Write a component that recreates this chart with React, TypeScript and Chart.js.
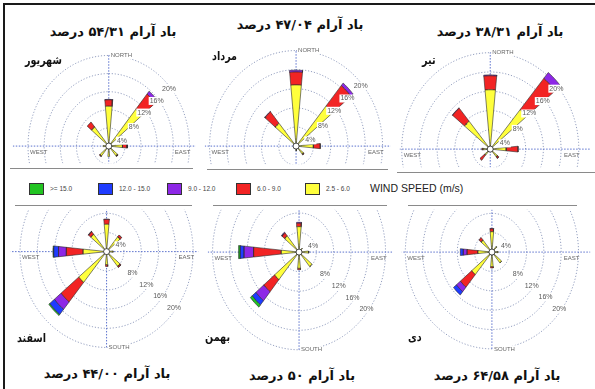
import React, { useEffect, useRef } from 'react';
import { Chart, registerables } from 'chart.js';
Chart.register(...registerables);

// ---------------- data ----------------
const directions = ['N', 'NNE', 'NE', 'ENE', 'E', 'ESE', 'SE', 'SSE', 'S', 'SSW', 'SW', 'WSW', 'W', 'WNW', 'NW', 'NNW'];
const speedClasses = ['2.5 - 6.0', '6.0 - 9.0', '9.0 - 12.0', '12.0 - 15.0', '>= 15.0'];
const speedColors = ['#ffff3c', '#f22424', '#8d27e6', '#1f3cff', '#22c422'];
const ringValues = [4, 8, 12, 16, 20];
const ringLabels = ['4%', '8%', '12%', '16%', '20%'];

const monthNames = ['شهریور', 'مرداد', 'تیر', 'اسفند', 'بهمن', 'دی'];
const calmPercent = ['۵۴/۳۱', '۴۷/۰۴', '۳۸/۳۱', '۴۴/۰۰', '۵۰', '۶۴/۵۸'];

// frequency (%) per direction (N, NNE, ... NNW); one row per speed class
const shahrivarFreq = [
  [8.8, 0, 10.5, 0, 3.4, 0, 2.8, 0, 2.3, 0, 2.8, 0, 1.4, 0, 5.5, 0],
  [1.4, 0, 4.4, 0, 1.1, 0, 0.2, 0, 0, 0, 0.2, 0, 0, 0, 1.4, 0],
  [0.1, 0, 0.8, 0, 0.1, 0, 0, 0, 0, 0, 0, 0, 0, 0, 0, 0],
  [0, 0, 0, 0, 0, 0, 0, 0, 0, 0, 0, 0, 0, 0, 0, 0],
  [0, 0, 0, 0, 0, 0, 0, 0, 0, 0, 0, 0, 0, 0, 0, 0],
];
const mordadFreq = [
  [12.8, 0, 10.9, 0, 4.0, 0, 2.2, 0, 1.0, 0, 0.6, 0, 0.5, 0, 6.2, 0],
  [2.7, 0, 5.5, 0, 1.6, 0, 0.2, 0, 0, 0, 0, 0, 0, 0, 3.1, 0],
  [0.4, 0, 0.7, 0, 0, 0, 0, 0, 0, 0, 0, 0, 0, 0, 0.1, 0],
  [0, 0, 0, 0, 0, 0, 0, 0, 0, 0, 0, 0, 0, 0, 0, 0],
  [0, 0, 0, 0, 0, 0, 0, 0, 0, 0, 0, 0, 0, 0, 0, 0],
];
const tirFreq = [
  [12.3, 0, 10.6, 0, 3.6, 0, 2.1, 0, 0, 0, 1.6, 0, 1.6, 0, 7.5, 0],
  [2.9, 0, 8.4, 0, 2.7, 0, 0.4, 0, 0, 0, 1.4, 0, 0.3, 0, 3.5, 0],
  [0.2, 0, 1.6, 0, 0, 0, 0, 0, 0, 0, 0, 0, 0, 0, 0.1, 0],
  [0, 0, 0, 0, 0, 0, 0, 0, 0, 0, 0, 0, 0, 0, 0, 0],
  [0, 0, 0, 0, 0, 0, 0, 0, 0, 0, 0, 0, 0, 0, 0, 0],
];
const esfandFreq = [
  [5.7, 0, 4.0, 0, 1.5, 0, 4.0, 0, 2.7, 0, 8.3, 0, 5.4, 0, 4.7, 0],
  [1.0, 0, 0.5, 0, 0, 0, 0.3, 0, 0.4, 0, 5.3, 0, 3.9, 0, 0.7, 0],
  [0.1, 0, 0, 0, 0, 0, 0, 0, 0, 0, 2.0, 0, 1.8, 0, 0.1, 0],
  [0, 0, 0, 0, 0, 0, 0, 0, 0, 0, 1.4, 0, 1.1, 0, 0, 0],
  [0, 0, 0, 0, 0, 0, 0, 0, 0, 0, 0.3, 0, 0.2, 0, 0, 0],
];
const bahmanFreq = [
  [5.2, 0, 1.0, 0, 2.2, 0, 3.9, 0, 3.3, 0, 7.3, 0, 4.1, 0, 4.3, 0],
  [0.7, 0, 0, 0, 0.1, 0, 0, 0, 0.3, 0, 3.2, 0, 6.4, 0, 0.8, 0],
  [0.2, 0, 0, 0, 0, 0, 0, 0, 0, 0, 2.4, 0, 2.2, 0, 0.2, 0],
  [0, 0, 0, 0, 0, 0, 0, 0, 0, 0, 1.1, 0, 0.9, 0, 0, 0],
  [0, 0, 0, 0, 0, 0, 0, 0, 0, 0, 0.6, 0, 0.4, 0, 0, 0],
];
const deyFreq = [
  [4.2, 0, 1.5, 0, 1.4, 0, 2.9, 0, 3.0, 0, 6.0, 0, 3.2, 0, 3.2, 0],
  [0.6, 0, 0, 0, 0, 0, 0, 0, 0.3, 0, 3.4, 0, 2.5, 0, 0.7, 0],
  [0.1, 0, 0, 0, 0, 0, 0, 0, 0, 0, 1.2, 0, 0.9, 0, 0, 0],
  [0, 0, 0, 0, 0, 0, 0, 0, 0, 0, 0.9, 0, 0.7, 0, 0, 0],
  [0, 0, 0, 0, 0, 0, 0, 0, 0, 0, 0, 0, 0, 0, 0, 0],
];
const panelFreqs = [shahrivarFreq, mordadFreq, tirFreq, esfandFreq, bahmanFreq, deyFreq];

// ---------------- layout ----------------
const panelLayouts = [
  { L: 8, T: 40, R: 200, B: 168, cx: 109, cy: 149.5, rx: 85, ry: 98, bottom: false },
  { L: 200, T: 36, R: 395, B: 169, cx: 296, cy: 149.5, rx: 91, ry: 103, bottom: false },
  { L: 395, T: 40, R: 595, B: 172, cx: 490, cy: 152.5, rx: 93, ry: 104, bottom: false },
  { L: 6, T: 205, R: 203, B: 364, cx: 106.7, cy: 249.5, rx: 91, ry: 102, bottom: true },
  { L: 203, T: 205, R: 397, B: 364, cx: 299, cy: 250, rx: 91, ry: 104, bottom: true },
  { L: 397, T: 205, R: 595, B: 364, cx: 491.7, cy: 250, rx: 91, ry: 103, bottom: true },
];
const titlePos = [[113, 32], [300, 25], [500, 31.5], [107, 374], [302, 376], [497, 376]];
const monthPos = [[25, 60], [212, 56], [422, 60], [17, 338], [205, 337], [408, 337]];
const sepLines = [[10, 193, 168], [207, 388, 169], [397, 595, 172], [15, 192, 205], [213, 387, 205], [408, 577, 205]];

const WEDGE_HALF = 5.5;
const MAX_RING = 20;

function polar(r: number, deg: number) {
  const a = (deg * Math.PI) / 180;
  return { x: r * Math.sin(a), y: r * Math.cos(a) };
}

function wedge(theta: number, r0: number, r1: number) {
  const pts: { x: number; y: number }[] = [];
  const n = 6;
  for (let i = 0; i <= n; i++) pts.push(polar(r1, theta - WEDGE_HALF + (2 * WEDGE_HALF * i) / n));
  if (r0 > 0) {
    for (let i = n; i >= 0; i--) pts.push(polar(r0, theta - WEDGE_HALF + (2 * WEDGE_HALF * i) / n));
  } else {
    pts.push({ x: 0, y: 0 });
  }
  pts.push(pts[0]);
  return pts;
}

const roseLabelPlugin = {
  id: 'roseLabels',
  afterDatasetsDraw(chart: any, _args: any, opts: any) {
    const { ctx } = chart;
    const xs = chart.scales.x;
    const ys = chart.scales.y;
    const px = (v: number) => xs.getPixelForValue(v);
    const py = (v: number) => ys.getPixelForValue(v);
    const bottom = opts && opts.bottom;
    ctx.save();
    ctx.textBaseline = 'middle';
    // ring labels
    ctx.font = '7px "Liberation Sans", Arial, sans-serif';
    ctx.textAlign = 'center';
    ringValues.forEach((r, i) => {
      const ang = bottom ? (i === 0 ? 68 : 127) : i === 0 ? 70 : i === 1 ? 56 : 50;
      const p = polar(r - 0.5, ang);
      const X = px(p.x);
      const Y = py(p.y);
      const w = ctx.measureText(ringLabels[i]).width;
      ctx.fillStyle = '#ffffff';
      ctx.fillRect(X - w / 2 - 1, Y - 4, w + 2, 8);
      ctx.fillStyle = '#5a5a5a';
      ctx.fillText(ringLabels[i], X, Y);
    });
    // compass labels
    ctx.font = '6px "Liberation Sans", Arial, sans-serif';
    const vert = bottom ? 'SOUTH' : 'NORTH';
    const vy = py(bottom ? -MAX_RING : MAX_RING);
    ctx.textAlign = 'left';
    const vw = ctx.measureText(vert).width;
    ctx.fillStyle = '#ffffff';
    ctx.fillRect(px(0) + 1, vy - 3.5, vw + 2, 7);
    ctx.fillStyle = '#666';
    ctx.fillText(vert, px(0) + 2, vy);
    ctx.fillText('WEST', px(-MAX_RING) + 2, py(0) + 6);
    ctx.textAlign = 'right';
    ctx.fillText('EAST', px(MAX_RING) + 1, py(0) + 6);
    ctx.restore();
  },
};

function Rose({ freq, layout }: { freq: number[][]; layout: any }) {
  const ref = useRef<HTMLCanvasElement>(null);
  const { L, T, R, B } = layout;
  useEffect(() => {
    const { cx, cy, rx, ry, bottom } = layout;
    const sx = rx / MAX_RING;
    const sy = ry / MAX_RING;
    const datasets: any[] = [];
    ringValues.forEach((v) => {
      const pts: any[] = [];
      for (let a = 0; a <= 360; a += 2) pts.push(polar(v, a));
      datasets.push({
        data: pts, borderColor: '#8a96ba', borderWidth: 0.9, borderDash: [1.2, 1.8],
        pointRadius: 0, fill: false, order: 10,
      });
    });
    datasets.push({
      data: [{ x: -26, y: 0 }, { x: 26, y: 0 }], borderColor: '#4a62c8', borderWidth: 0.9,
      borderDash: [1.5, 1.5], pointRadius: 0, fill: false, order: 9,
    });
    datasets.push({
      data: [{ x: 0, y: -MAX_RING }, { x: 0, y: MAX_RING }], borderColor: '#4a62c8', borderWidth: 0.9,
      borderDash: [1.5, 1.5], pointRadius: 0, fill: false, order: 9,
    });
    directions.forEach((_, d) => {
      let cum = 0;
      freq.forEach((row, k) => {
        const v = row[d];
        if (v > 0) {
          datasets.push({
            data: wedge(d * 22.5, cum, cum + v), backgroundColor: speedColors[k], borderColor: '#2a2a2a',
            borderWidth: 0.6, pointRadius: 0, fill: 'shape', order: 5,
          });
          cum += v;
        }
      });
    });
    datasets.push({
      data: [{ x: 0, y: 0 }], showLine: false, pointRadius: 3, pointBackgroundColor: '#ffffff',
      pointBorderColor: '#222', pointBorderWidth: 0.8, order: 1,
    });
    const chart = new Chart(ref.current as HTMLCanvasElement, {
      type: 'line',
      data: { datasets },
      options: {
        responsive: false,
        animation: false,
        events: [],
        layout: { padding: 0 },
        plugins: {
          legend: { display: false },
          tooltip: { enabled: false },
          title: { display: false },
          roseLabels: { bottom },
        } as any,
        scales: {
          x: { type: 'linear', display: false, bounds: 'data', min: (L - cx) / sx, max: (R - cx) / sx },
          y: { type: 'linear', display: false, bounds: 'data', min: (cy - B) / sy, max: (cy - T) / sy },
        },
        elements: { line: { tension: 0 } },
      },
      plugins: [roseLabelPlugin],
    });
    return () => chart.destroy();
  }, []);
  return (
    <canvas
      ref={ref}
      width={R - L}
      height={B - T}
      style={{ position: 'absolute', left: L, top: T, width: R - L, height: B - T }}
    />
  );
}

const persianFont = '"DejaVu Sans", "Noto Sans", sans-serif';
const latinFont = '"Liberation Sans", Arial, sans-serif';

export default function App() {
  const legendOrder = [4, 3, 2, 1, 0];
  return (
    <div style={{ position: 'absolute', left: 0, top: 0, width: 595, height: 389, background: '#fff', overflow: 'hidden' }}>
      {/* frame */}
      <div style={{ position: 'absolute', left: 3, top: 3, width: 592, height: 2, background: '#1a1a1a' }} />
      <div style={{ position: 'absolute', left: 3, top: 3, width: 2, height: 386, background: '#1a1a1a' }} />
      {sepLines.map(([x0, x1, y], i) => (
        <div key={'s' + i} style={{ position: 'absolute', left: x0, top: y, width: x1 - x0, height: 1, background: '#8a8a8a' }} />
      ))}
      {panelLayouts.map((lay, i) => (
        <Rose key={'r' + i} freq={panelFreqs[i]} layout={lay} />
      ))}
      {calmPercent.map((v, i) => (
        <div
          key={'t' + i}
          dir="rtl"
          style={{
            position: 'absolute', left: titlePos[i][0], top: titlePos[i][1] - 8, transform: 'translateX(-50%)',
            font: `bold 13px ${persianFont}`, lineHeight: '16px', whiteSpace: 'nowrap', color: '#111',
          }}
        >
          {`باد آرام ${v} درصد`}
        </div>
      ))}
      {monthNames.map((m, i) => (
        <div
          key={'m' + i}
          dir="rtl"
          style={{
            position: 'absolute', left: monthPos[i][0], top: monthPos[i][1] - 8,
            font: `bold 12px ${persianFont}`, lineHeight: '16px', whiteSpace: 'nowrap', color: '#111',
            transform: 'scaleX(0.8)', transformOrigin: 'left center',
          }}
        >
          {m}
        </div>
      ))}
      {legendOrder.map((k, i) => (
        <React.Fragment key={'l' + k}>
          <div
            style={{
              position: 'absolute', left: 29 + i * 69, top: 183, width: 13, height: 10,
              background: speedColors[k], border: '1px solid #333',
            }}
          />
          <div
            style={{
              position: 'absolute', left: 29 + i * 69 + 21, top: 184, font: `6.5px ${latinFont}`,
              lineHeight: '10px', whiteSpace: 'nowrap', color: '#444',
            }}
          >
            {speedClasses[k]}
          </div>
        </React.Fragment>
      ))}
      <div
        style={{
          position: 'absolute', left: 370, top: 182, font: `10.5px ${latinFont}`, lineHeight: '12px',
          whiteSpace: 'nowrap', color: '#222',
        }}
      >
        WIND SPEED (m/s)
      </div>
    </div>
  );
}
